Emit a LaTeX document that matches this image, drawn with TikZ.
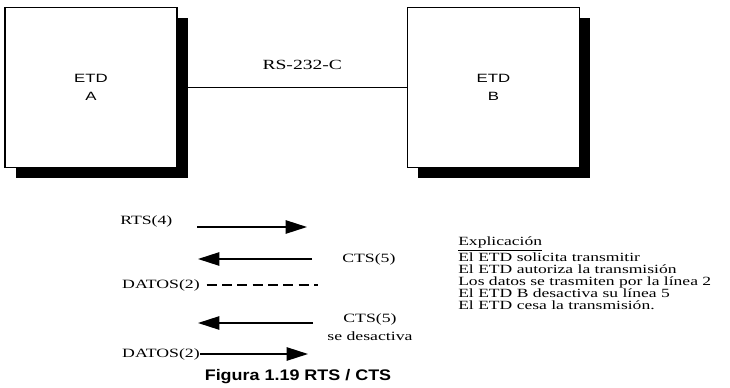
\documentclass[tikz,border=0pt]{standalone}
\usepackage{fontspec}
\setmainfont[FakeStretch=1.4]{Liberation Serif}
\setsansfont[FakeStretch=1.4]{Liberation Sans}
\newfontfamily\titfont[FakeStretch=1.17]{Liberation Sans}
\usepackage{tikz}
\usetikzlibrary{arrows.meta, positioning, shadows}

\tikzset{
  etdbox/.style={draw, fill=white, line width=0.9pt, minimum width=129pt, minimum height=120pt,
    align=center, font=\sffamily\fontsize{9}{13}\selectfont,
    drop shadow={shadow xshift=8pt, shadow yshift=-8pt, fill=black, opacity=1}},
  senal/.style={line width=1.2pt, -{Triangle[length=16pt, width=10pt]}},
  rotulo/.style={font=\fontsize{9.5}{12}\selectfont, inner sep=0pt},
}

\begin{document}
\begin{tikzpicture}[x=0.75pt, y=-0.75pt]
\useasboundingbox (0,0) rectangle (730,388);

% equipos
\node[etdbox] (etdA) at (91,87.5) {ETD\\A};
\node[etdbox] (etdB) at (493.5,87.5) {ETD\\B};
\draw[line width=0.8pt] (etdA.east) -- node[above=13pt, rotulo, font=\fontsize{10.5}{12}\selectfont, xshift=7.5pt] {RS-232-C} (etdB.west);

% senales
\node[rotulo, anchor=west] (rts) at (120,221) {RTS(4)};
\coordinate (rtsIni) at (197,227);
\coordinate (rtsFin) at (307,227);
\draw[senal] (rtsIni) -- (rtsFin);

\node[rotulo, anchor=west] (ctsA) at (342,259) {CTS(5)};
\coordinate (ctsAIni) at (312,259);
\coordinate (ctsAFin) at (198,259);
\draw[senal] (ctsAIni) -- (ctsAFin);

\node[rotulo, anchor=east] (datosA) at (200,285) {DATOS(2)};
\coordinate (datosAFin) at (318,285);
\draw[line width=1.2pt, dash pattern=on 7.5pt off 4pt] ([xshift=5pt]datosA.east) -- (datosAFin);

\node[rotulo, align=center, font=\fontsize{9.5}{13.5}\selectfont] (ctsB) at (370,327) {CTS(5)\\se desactiva};
\coordinate (ctsBIni) at (313,323);
\coordinate (ctsBFin) at (198,323);
\draw[senal] (ctsBIni) -- (ctsBFin);

\node[rotulo, anchor=east] (datosB) at (200,354) {DATOS(2)};
\coordinate (datosBFin) at (308,354);
\draw[senal] (datosB.east) -- (datosBFin);

% explicacion
\node[rotulo, anchor=north west, align=left, font=\fontsize{9.4}{9}\selectfont] (expl) at (458,237) {%
  \underline{Explicación}\\
  El ETD solicita transmitir\\
  El ETD autoriza la transmisión\\
  Los datos se trasmiten por la línea 2\\
  El ETD B desactiva su línea 5\\
  El ETD cesa la transmisión.};

\node[font=\titfont\bfseries\fontsize{11.5}{12}\selectfont, inner sep=0pt] (titulo) at (298,377) {Figura 1.19 RTS / CTS};
\end{tikzpicture}
\end{document}
